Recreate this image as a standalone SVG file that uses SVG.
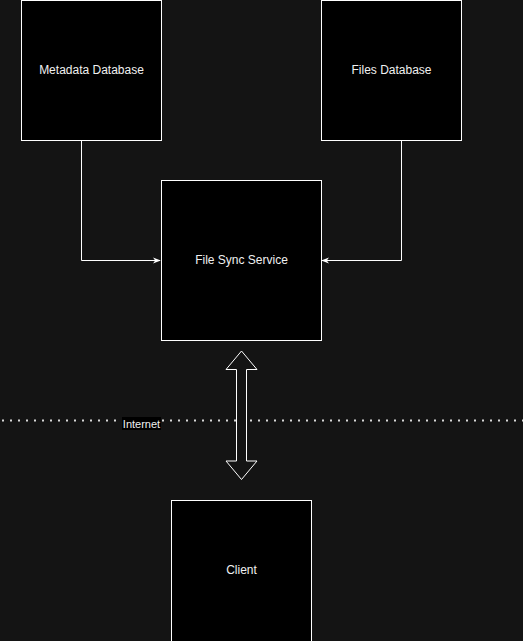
<svg xmlns="http://www.w3.org/2000/svg" width="523" height="641" viewBox="0 0 523 641">
<style>
.box{fill:#000000;stroke:#ffffff;stroke-width:1}
.lbl{font-family:"Liberation Sans",Arial,sans-serif;font-size:12px;fill:#f0f0f0;text-anchor:middle}
.edge{fill:none;stroke:#ffffff;stroke-width:1}
</style>
<defs>
<marker id="arr" viewBox="0 0 10 10" refX="9" refY="5" markerWidth="8" markerHeight="8" orient="auto" markerUnits="userSpaceOnUse">
<path d="M0,1 L10,5 L0,9 L3,5 Z" fill="#ffffff"/>
</marker>
</defs>
<rect width="523" height="641" fill="#141414"/>
<g id="boundary">
<line x1="2" y1="420.5" x2="523" y2="420.5" stroke="#d8d8d8" stroke-width="2" stroke-dasharray="2 6" stroke-linecap="butt"/>
<rect x="122" y="417" width="39" height="13" fill="#000000"/>
<text class="lbl" x="141.5" y="427.5" style="font-size:11px">Internet</text>
</g>
<g id="connectors">
<path class="edge" d="M81.5,140.5 V260.5 H160" marker-end="url(#arr)"/>
<path class="edge" d="M401.5,140.5 V260.5 H322" marker-end="url(#arr)"/>
<path d="M241.5,351 L257,369.5 H246.5 V461 H257 L241.5,479.5 L226,461 H236.5 V369.5 H226 Z" fill="#141414" stroke="#ffffff" stroke-width="1" stroke-linejoin="miter"/>
</g>
<g id="metadata-db">
<rect class="box" x="21.5" y="0.5" width="140" height="140"/>
<text class="lbl" x="91.5" y="73.5">Metadata Database</text>
</g>
<g id="files-db">
<rect class="box" x="321.5" y="0.5" width="140" height="140"/>
<text class="lbl" x="391.5" y="73.5">Files Database</text>
</g>
<g id="file-sync-service">
<rect class="box" x="161.5" y="180.5" width="160" height="160"/>
<text class="lbl" x="241.5" y="263.5">File Sync Service</text>
</g>
<g id="client">
<rect class="box" x="171.5" y="500.5" width="140" height="145"/>
<text class="lbl" x="241.5" y="573.5">Client</text>
</g>
</svg>
